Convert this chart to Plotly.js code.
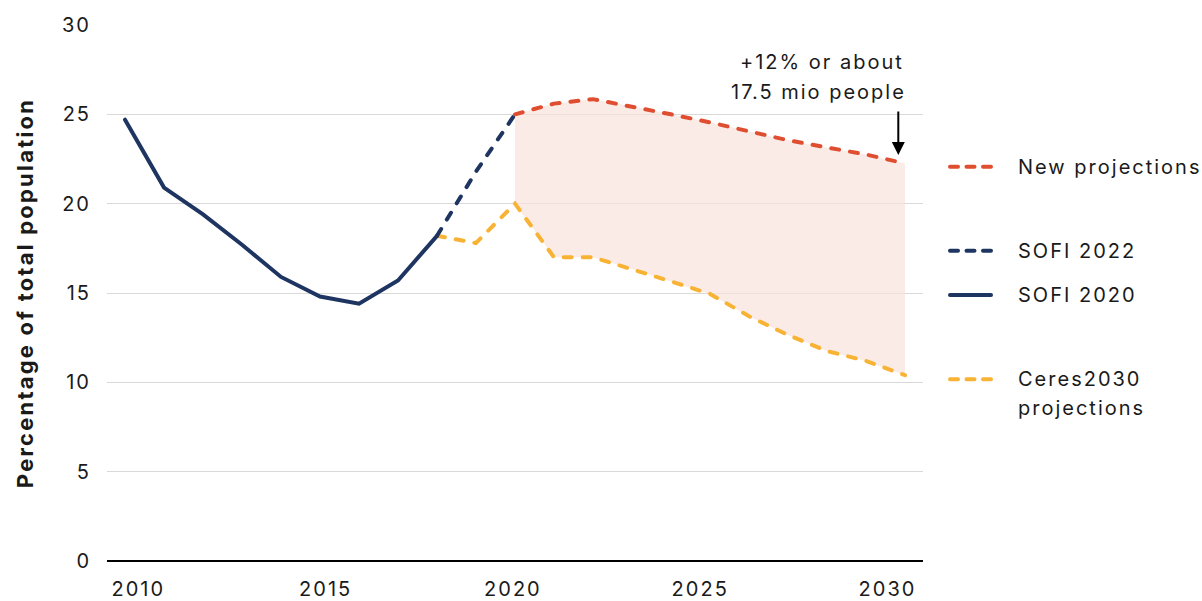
<!DOCTYPE html>
<html>
<head>
<meta charset="utf-8">
<script src="https://cdn.plot.ly/plotly-3.0.1.min.js"></script>
<style>
html,body{margin:0;padding:0;background:#fff;}
#chart{width:1202px;height:601px;}
.scatterlayer path.js-line{stroke-linecap:round !important;}
.shapelayer path{stroke-linecap:round !important;}
.main-svg text{letter-spacing:2px;}
.main-svg text.ytitle{letter-spacing:2.2px;}
</style>
</head>
<body>
<div id="chart"></div>
<script>
// ---- data ----
const sofi2020Years = [2010, 2011, 2012, 2013, 2014, 2015, 2016, 2017, 2018];
const sofi2020Values = [24.7, 20.9, 19.4, 17.7, 15.9, 14.8, 14.4, 15.7, 18.2];

const sofi2022Years = [2018, 2019, 2020];
const sofi2022Values = [18.2, 21.8, 25.0];

const newProjYears = [2020, 2021, 2022, 2023, 2024, 2025, 2026, 2027, 2028, 2029, 2030];
const newProjValues = [25.0, 25.6, 25.85, 25.45, 25.0, 24.55, 24.05, 23.55, 23.15, 22.75, 22.25];

const ceresYears = [2018, 2019, 2020, 2021, 2022, 2023, 2024, 2025, 2026, 2027, 2028, 2029, 2030];
const ceresValues = [18.2, 17.8, 20.0, 17.0, 17.0, 16.35, 15.65, 14.95, 13.7, 12.65, 11.75, 11.2, 10.4];

const xTickVals = [2010, 2015, 2020, 2025, 2030];
const xTickText = ['2010', '2015', '2020', '2025', '2030'];
const yTickVals = [0, 5, 10, 15, 20, 25, 30];

const legendNames = ['New projections', 'SOFI 2022', 'SOFI 2020', 'Ceres2030', 'projections'];
const annotationLines = ['+12% or about', '17.5 mio people'];

// ---- styles ----
const NAVY = '#1e3461';
const RED = '#e04e31';
const YELLOW = '#f8b334';
const FILL = 'rgba(248,226,220,0.7)';
const FONT = 'Inter, Lato, sans-serif';
const TXT = '#1a1a1a';
const DASH = '8px,11px';
const LDASH = '8px,8.5px';

// fill region (from 2020 on)
const iStart = ceresYears.indexOf(2020);
const ceresFillX = ceresYears.slice(iStart);
const ceresFillY = ceresValues.slice(iStart);

const traces = [
  {x: ceresFillX, y: ceresFillY, mode: 'lines', line: {width: 0}, hoverinfo: 'skip', showlegend: false},
  {x: newProjYears, y: newProjValues, mode: 'lines', line: {width: 0}, fill: 'tonexty', fillcolor: FILL, hoverinfo: 'skip', showlegend: false},
  {x: ceresYears, y: ceresValues, mode: 'lines', name: 'Ceres2030 projections', line: {color: YELLOW, width: 4, dash: DASH}},
  {x: sofi2022Years, y: sofi2022Values, mode: 'lines', name: 'SOFI 2022', line: {color: NAVY, width: 4, dash: DASH}},
  {x: newProjYears, y: newProjValues, mode: 'lines', name: 'New projections', line: {color: RED, width: 4, dash: DASH}},
  {x: sofi2020Years, y: sofi2020Values, mode: 'lines', name: 'SOFI 2020', line: {color: NAVY, width: 4}},
  // carrier for the label axis
  {x: xTickVals, y: xTickVals.map(() => null), xaxis: 'x2', yaxis: 'y', mode: 'lines', hoverinfo: 'skip', showlegend: false}
];

// plot area in px: left 107, right 923, top 25, bottom 561
const W = 816, H = 536;
const px = v => (v - 107) / W;
const py = v => (561 - v) / H;

const legendSamples = [
  {y: 166.7, color: RED, dash: LDASH},
  {y: 250.7, color: NAVY, dash: LDASH},
  {y: 295, color: NAVY, dash: 'solid'},
  {y: 379.3, color: YELLOW, dash: LDASH}
];
const legendTextY = [166.7, 250.7, 295, 379.3, 408.3];

const shapes = legendSamples.map(r => ({
  type: 'line', xref: 'paper', yref: 'paper',
  x0: px(950), x1: px(991), y0: py(r.y), y1: py(r.y),
  line: {color: r.color, width: 4, dash: r.dash}
}));

const annotations = legendNames.map((t, i) => ({
  xref: 'paper', yref: 'paper', x: px(1016), y: py(legendTextY[i]),
  xanchor: 'left', yanchor: 'middle', align: 'left', showarrow: false,
  text: t, font: {family: FONT, size: 20, color: TXT}
}));

annotations.push(
  {xref: 'paper', yref: 'paper', x: px(893), y: py(61.7), xanchor: 'right', yanchor: 'middle',
   showarrow: false, text: annotationLines[0], font: {family: FONT, size: 20, color: TXT}},
  {xref: 'paper', yref: 'paper', x: px(893), y: py(91.7), xanchor: 'right', yanchor: 'middle',
   showarrow: false, text: annotationLines[1], font: {family: FONT, size: 20, color: TXT}},
  {xref: 'paper', yref: 'paper', x: px(898.3), y: py(155), text: '', showarrow: true,
   ax: 0, ay: -45, arrowhead: 2, arrowsize: 1.3, arrowwidth: 2, arrowcolor: '#000'}
);

const layout = {
  width: 1202, height: 601,
  margin: {l: 107, r: 279, t: 25, b: 40},
  paper_bgcolor: '#fff', plot_bgcolor: '#fff',
  showlegend: false,
  font: {family: FONT, size: 20, color: TXT},
  xaxis: {
    range: [2009.538, 2030.462], showticklabels: false, showgrid: false,
    zeroline: false, showline: false, ticks: ''
  },
  xaxis2: {
    overlaying: 'x', anchor: 'y', side: 'bottom',
    range: [2009.164, 2030.948], tickmode: 'array', tickvals: xTickVals, ticktext: xTickText,
    showgrid: false, zeroline: false, showline: false, ticks: '',
    ticklabelstandoff: 14, tickfont: {family: FONT, size: 20, color: TXT}
  },
  yaxis: {
    range: [0, 30], tickmode: 'array', tickvals: yTickVals,
    showgrid: true, gridcolor: '#d9d9d9', gridwidth: 1,
    zeroline: true, zerolinecolor: '#000', zerolinewidth: 2.5,
    showline: false, ticks: '', ticklabelstandoff: 15,
    tickfont: {family: FONT, size: 20, color: TXT},
    title: {text: 'Percentage of total population', standoff: 26,
            font: {family: FONT, size: 22, color: TXT, weight: 'bold'}}
  },
  shapes: shapes,
  annotations: annotations
};

Plotly.newPlot('chart', traces, layout, {displayModeBar: false, staticPlot: true});
</script>
</body>
</html>
